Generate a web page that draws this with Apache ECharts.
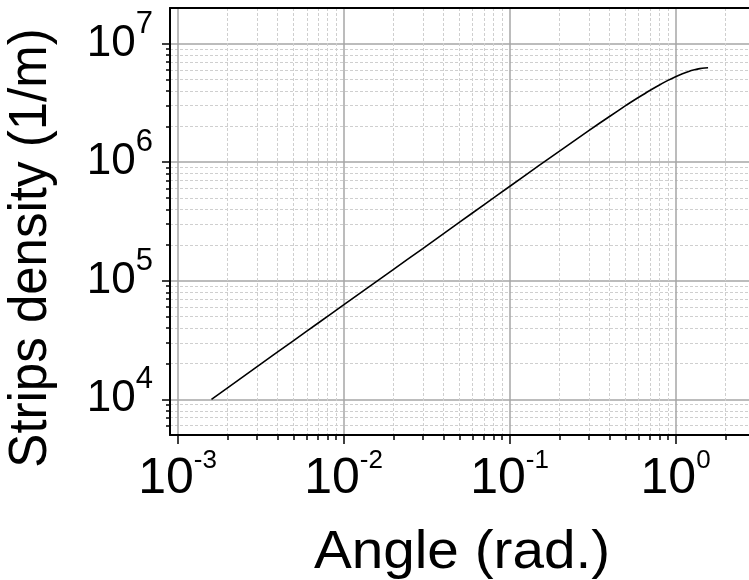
<!DOCTYPE html>
<html>
<head>
<meta charset="utf-8">
<script src="https://cdn.jsdelivr.net/npm/echarts@6/dist/echarts.min.js"></script>
<style>html,body{margin:0;padding:0;background:#fff;}#c{width:749px;height:580px;}</style>
</head>
<body>
<div id="c"></div>
<script>
// Angle (rad.) values
const angle = [0.0016, 0.002, 0.003, 0.005, 0.007, 0.01, 0.02, 0.03, 0.05, 0.07, 0.1, 0.15, 0.2, 0.3, 0.4, 0.5, 0.6, 0.7, 0.8, 0.9, 1.0, 1.1, 1.2, 1.3, 1.4, 1.5, 1.57];
// Strips density (1/m)
const density = [1.0e4, 1.25e4, 1.88e4, 3.13e4, 4.38e4, 6.25e4, 1.25e5, 1.87e5, 3.12e5, 4.37e5, 6.24e5, 9.35e5, 1.24e6, 1.85e6, 2.43e6, 3.0e6, 3.53e6, 4.03e6, 4.48e6, 4.9e6, 5.26e6, 5.57e6, 5.83e6, 6.02e6, 6.16e6, 6.24e6, 6.26e6];
// tick positions
const xMajor = [0.001, 0.01, 0.1, 1];
const xMinor = [0.002, 0.003, 0.004, 0.005, 0.006, 0.007, 0.008, 0.009,
                0.02, 0.03, 0.04, 0.05, 0.06, 0.07, 0.08, 0.09,
                0.2, 0.3, 0.4, 0.5, 0.6, 0.7, 0.8, 0.9, 2];
const yMajor = [1e4, 1e5, 1e6, 1e7];
const yMinor = [6e3, 7e3, 8e3, 9e3,
                2e4, 3e4, 4e4, 5e4, 6e4, 7e4, 8e4, 9e4,
                2e5, 3e5, 4e5, 5e5, 6e5, 7e5, 8e5, 9e5,
                2e6, 3e6, 4e6, 5e6, 6e6, 7e6, 8e6, 9e6];
const xRange = [0.0009, 2.77];
const yRange = [5000, 2e7];

const FONT = 'Liberation Sans, Arial, sans-serif';
const pts = angle.map((a, i) => [a, density[i]]);
function powLabel(v) {
  const e = Math.round(Math.log10(v));
  return '{a|10}{b|' + e + '}';
}

const chart = echarts.init(document.getElementById('c'), null, {renderer: 'canvas'});
chart.setOption({
  animation: false,
  backgroundColor: '#fff',
  grid: {left: 170, top: 8, right: 0, bottom: 145, containLabel: false},
  xAxis: [
    {
      type: 'log', position: 'bottom', min: xRange[0], max: xRange[1],
      axisLine: {show: true, lineStyle: {color: '#000', width: 2}},
      axisTick: {show: true, customValues: xMajor, length: 9, lineStyle: {color: '#000', width: 1.5}},
      axisLabel: {
        show: true, customValues: xMajor, margin: 13, formatter: powLabel,
        rich: {
          a: {fontSize: 50, fontFamily: FONT, color: '#000', lineHeight: 63},
          b: {fontSize: 26, fontFamily: FONT, color: '#000', lineHeight: 26, verticalAlign: 'top'}
        }
      },
      splitLine: {show: true, lineStyle: {color: '#a6a6a6', width: 1.5, type: 'solid'}},
      minorTick: {show: false}
    },
    {
      type: 'log', position: 'bottom', min: xRange[0], max: xRange[1],
      axisLine: {show: false},
      axisTick: {show: true, customValues: xMinor, length: 5, lineStyle: {color: '#000', width: 1.5}},
      axisLabel: {show: false},
      splitLine: {show: true, lineStyle: {color: '#cfcfcf', width: 1, type: [3, 2]}}
    },
    {
      type: 'log', position: 'top', min: xRange[0], max: xRange[1],
      axisLine: {show: true, lineStyle: {color: '#000', width: 2}},
      axisTick: {show: false}, axisLabel: {show: false}, splitLine: {show: false}
    }
  ],
  yAxis: [
    {
      type: 'log', position: 'left', min: yRange[0], max: yRange[1],
      axisLine: {show: true, lineStyle: {color: '#000', width: 2}},
      axisTick: {show: true, customValues: yMajor, length: 8, lineStyle: {color: '#000', width: 1.5}},
      axisLabel: {
        show: true, customValues: yMajor, margin: 17, formatter: powLabel,
        rich: {
          a: {fontSize: 44, fontFamily: FONT, color: '#000', lineHeight: 70},
          b: {fontSize: 31, fontFamily: FONT, color: '#000', lineHeight: 31, verticalAlign: 'top'}
        }
      },
      splitLine: {show: true, lineStyle: {color: '#a6a6a6', width: 1.5, type: 'solid'}}
    },
    {
      type: 'log', position: 'left', min: yRange[0], max: yRange[1],
      axisLine: {show: false},
      axisTick: {show: true, customValues: yMinor, length: 4, lineStyle: {color: '#000', width: 1.5}},
      axisLabel: {show: false},
      splitLine: {show: true, lineStyle: {color: '#cfcfcf', width: 1, type: [3, 2]}}
    }
  ],
  graphic: [
    {
      type: 'group', x: 462, y: 553, scaleX: 1.05,
      children: [{
        type: 'text',
        style: {text: 'Angle (rad.)', fontSize: 54, fontFamily: FONT, fill: '#000', align: 'center', verticalAlign: 'middle'}
      }]
    },
    {
      type: 'group', x: 31, y: 248, scaleX: 1.05,
      children: [{
        type: 'text', rotation: Math.PI / 2,
        style: {text: 'Strips density (1/m)', fontSize: 51, fontFamily: FONT, fill: '#000', align: 'center', verticalAlign: 'middle'}
      }]
    }
  ],
  series: [{
    type: 'line', xAxisIndex: 0, yAxisIndex: 0, data: pts,
    showSymbol: false, smooth: 0.2,
    lineStyle: {color: '#000', width: 1.6}, z: 5
  }]
});
</script>
</body>
</html>
